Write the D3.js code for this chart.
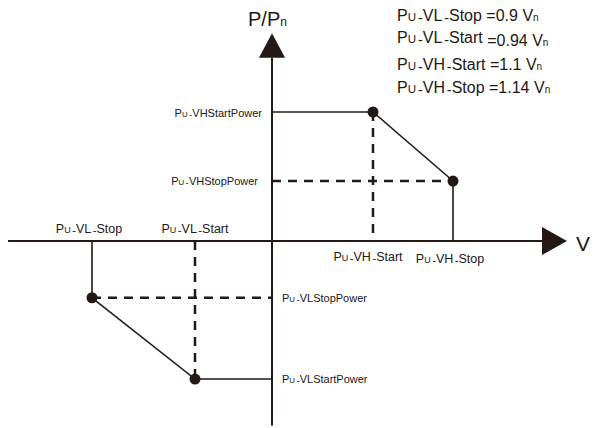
<!DOCTYPE html>
<html>
<head>
<meta charset="utf-8">
<script src="https://cdn.jsdelivr.net/npm/d3@7"></script>
<style>
  body { margin: 0; background: #fff; }
  text { font-family: "Liberation Sans", Arial, sans-serif; fill: #231815; }
</style>
</head>
<body>
<svg width="595" height="428"></svg>
<script>
// schematic positions (not to scale in the original)
const voltNames = ["PU_VL_Stop", "PU_VL_Start", "PU_VH_Start", "PU_VH_Stop"];
const voltValues = [0.9, 0.94, 1.1, 1.14];
const voltPos = [-1.8, -0.77, 1.01, 1.81];

const powerNames = ["PU_VLStartPower", "PU_VLStopPower", "PU_VHStopPower", "PU_VHStartPower"];
const powerPos = [-1.07, -0.44, 0.465, 1.0];

const svg = d3.select("svg");
const ink = "#231815";

const xScale = d3.scaleLinear().domain([0, 1]).range([272, 372]);
const yScale = d3.scaleLinear().domain([0, 1]).range([241, 112]);

// label with small "U" and low dashes
function puText(g, x, y, name, size, anchor) {
    const t = g.append("text")
        .attr("x", x).attr("y", y)
        .attr("font-size", size)
        .attr("text-anchor", anchor || "start");
    const parts = name.split("_");
    t.append("tspan").text("P");
    t.append("tspan").attr("font-size", size * 0.72).text("U");
    parts.slice(1).forEach(p => {
        t.append("tspan").attr("font-size", size * 0.9).attr("dx", size * 0.12).attr("dy", size * 0.1).text("-");
        t.append("tspan").attr("dy", -size * 0.1).text(p);
    });
    return t;
}

// axes
svg.append("line")
    .attr("x1", xScale(-2.64)).attr("x2", xScale(2.72))
    .attr("y1", yScale(0)).attr("y2", yScale(0))
    .attr("stroke", ink).attr("stroke-width", 2);
svg.append("line")
    .attr("x1", xScale(0)).attr("x2", xScale(0))
    .attr("y1", yScale(1.42)).attr("y2", yScale(-1.43))
    .attr("stroke", ink).attr("stroke-width", 2);

// arrow heads
svg.append("path")
    .attr("d", `M${xScale(2.95)},${yScale(0)} L${xScale(2.70)},${yScale(0) - 14} L${xScale(2.70)},${yScale(0) + 14} Z`)
    .attr("fill", ink);
svg.append("path")
    .attr("d", `M${xScale(0)},${yScale(1.61)} L${xScale(0) - 13},${yScale(1.42)} L${xScale(0) + 13},${yScale(1.42)} Z`)
    .attr("fill", ink);

// axis titles
const pTitle = svg.append("text").attr("x", 248).attr("y", 26).attr("font-size", 20);
pTitle.append("tspan").text("P/P");
pTitle.append("tspan").attr("font-size", 12).text("n");
svg.append("text").attr("x", 576).attr("y", 251).attr("font-size", 21).text("V");

// the curve
const hi = [[0, powerPos[3]], [voltPos[2], powerPos[3]], [voltPos[3], powerPos[2]], [voltPos[3], 0]];
const lo = [[voltPos[0], 0], [voltPos[0], powerPos[1]], [voltPos[1], powerPos[0]], [0, powerPos[0]]];
const line = d3.line().x(d => xScale(d[0])).y(d => yScale(d[1]));

// dashed guides
const guides = [
    [[voltPos[2], powerPos[3]], [voltPos[2], 0]],
    [[0, powerPos[2]], [voltPos[3], powerPos[2]]],
    [[voltPos[0], powerPos[1]], [0, powerPos[1]]],
    [[voltPos[1], 0], [voltPos[1], powerPos[0]]]
];
svg.selectAll(".guide").data(guides).join("path")
    .attr("class", "guide")
    .attr("d", line)
    .attr("fill", "none").attr("stroke", ink)
    .attr("stroke-width", 2.5).attr("stroke-dasharray", "9,7");

[hi, lo].forEach(pts => {
    svg.append("path").attr("d", line(pts))
        .attr("fill", "none").attr("stroke", ink).attr("stroke-width", 1.6);
});

const dots = [[voltPos[2], powerPos[3]], [voltPos[3], powerPos[2]], [voltPos[0], powerPos[1]], [voltPos[1], powerPos[0]]];
svg.selectAll(".dot").data(dots).join("circle")
    .attr("class", "dot")
    .attr("cx", d => xScale(d[0])).attr("cy", d => yScale(d[1]))
    .attr("r", 5.5).attr("fill", ink);

// voltage labels
const lab = svg.append("g");
puText(lab, xScale(voltPos[0]) - 3, yScale(0) - 8, voltNames[0], 12.5, "middle");
puText(lab, xScale(voltPos[1]) + 0, yScale(0) - 8, voltNames[1], 12.5, "middle");
puText(lab, xScale(voltPos[2]) - 5, yScale(0) + 20, voltNames[2], 12.5, "middle");
puText(lab, xScale(voltPos[3]) - 3, yScale(0) + 22, voltNames[3], 12.5, "middle");

// power labels
puText(lab, 262, yScale(powerPos[3]) + 5, powerNames[3], 11, "end");
puText(lab, 258, yScale(powerPos[2]) + 4, powerNames[2], 11, "end");
puText(lab, 282, yScale(powerPos[1]) + 4, powerNames[1], 11, "start");
puText(lab, 282, yScale(powerPos[0]) + 4, powerNames[0], 11, "start");

// legend of thresholds
const legY = [21, 43, 70, 93];
voltNames.forEach((name, i) => {
    const t = puText(lab, 397, legY[i], name, 16, "start");
    t.append("tspan").attr("dy", i === 1 ? 3 : 0).text(" =" + voltValues[i] + " V");
    t.append("tspan").attr("font-size", 10).text("n");
});
</script>
</body>
</html>
